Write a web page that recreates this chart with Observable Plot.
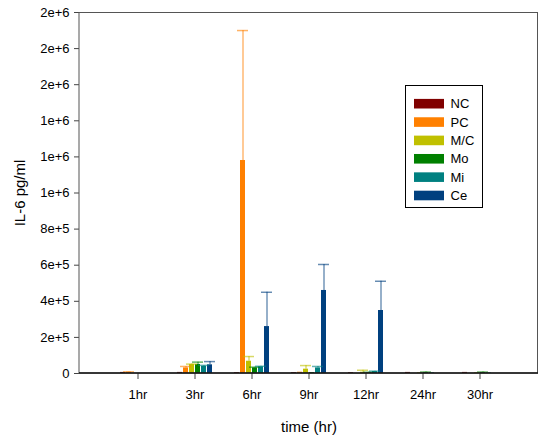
<!DOCTYPE html>
<html>
<head>
<meta charset="utf-8">
<script src="https://cdn.jsdelivr.net/npm/d3@7"></script>
<script src="https://cdn.jsdelivr.net/npm/@observablehq/plot@0.6"></script>
<style>
  html, body { margin: 0; padding: 0; background: #fff; }
  #chart { width: 539px; height: 439px; }
</style>
</head>
<body>
<div id="chart"></div>
<script>
const categories = ["1hr", "3hr", "6hr", "9hr", "12hr", "24hr", "30hr"];
const series = ["NC", "PC", "M/C", "Mo", "Mi", "Ce"];
const colors = ["#800000", "#ff8000", "#c0c000", "#008000", "#008080", "#00407f"];

// means (pg/ml), one value per category
const meanNC = [6000, 6000, 5000, 5000, 5000, 6000, 6000];
const meanPC = [7000, 31000, 1180000, 7000, 0, 0, 0];
const meanMC = [0, 50000, 68000, 24000, 7000, 4000, 4000];
const meanMo = [0, 50000, 31000, 5000, 4000, 6000, 6000];
const meanMi = [0, 40000, 37000, 31000, 11000, 4000, 3000];
const meanCe = [0, 48000, 260000, 460000, 349000, 0, 0];

// standard deviations
const sdNC = [0, 0, 0, 0, 0, 0, 0];
const sdPC = [2000, 8000, 720000, 0, 0, 0, 0];
const sdMC = [0, 2000, 26000, 20000, 11000, 0, 0];
const sdMo = [0, 13000, 4000, 0, 3000, 2000, 2000];
const sdMi = [0, 5000, 3000, 8000, 2000, 0, 0];
const sdCe = [0, 18000, 190000, 144000, 162000, 0, 0];

const yTicks = [0, 200000, 400000, 600000, 800000, 1000000, 1200000, 1400000, 1600000, 1800000, 2000000];

const means = [meanNC, meanPC, meanMC, meanMo, meanMi, meanCe];
const sds = [sdNC, sdPC, sdMC, sdMo, sdMi, sdCe];
const data = [];
series.forEach((s, j) => categories.forEach((c, i) => {
  data.push({time: c, series: s, mean: means[j][i], sd: sds[j][i]});
}));
const errData = data.filter(d => d.sd > 0);

const fmt = d => d === 0 ? "0" : d3.format(".0e")(d);
const ML = 79;

function makePlot(axisShift) {
  return Plot.plot({
    width: 539,
    height: 439,
    marginLeft: ML,
    marginRight: 1,
    marginTop: 12,
    marginBottom: 66,
    style: {fontFamily: "'Liberation Sans', Arial, sans-serif", fontSize: "13px", background: "#fff", color: "#000"},
    fx: {domain: categories, paddingInner: 0.387, paddingOuter: 0.68, label: "time (hr)"},
    x: {domain: series, paddingInner: 0.2, paddingOuter: 0, axis: null},
    y: {domain: [0, 2000000], label: "IL-6 pg/ml"},
    color: {domain: series, range: colors},
    marks: [
      Plot.axisY({ticks: yTicks, tickFormat: fmt, tickSize: 5, tickPadding: 5, label: "IL-6 pg/ml",
        labelAnchor: "center", labelOffset: 65 - axisShift, labelArrow: "none", stroke: "#444", dx: axisShift}),
      Plot.axisFx({anchor: "bottom", tickSize: 6, tickPadding: 10, label: "time (hr)",
        labelAnchor: "center", labelOffset: 58, labelArrow: "none", stroke: "#444"}),
      Plot.barY(data, {fx: "time", x: "series", y: "mean", fill: "series"}),
      Plot.ruleX(errData, {fx: "time", x: "series", y1: "mean", y2: d => d.mean + d.sd,
        stroke: "series", strokeOpacity: 0.55, strokeWidth: 1.5}),
      Plot.tickY(errData, {fx: "time", x: "series", y: d => d.mean + d.sd,
        stroke: "series", strokeOpacity: 0.6, strokeWidth: 1.5, insetLeft: -3, insetRight: -3})
    ]
  });
}

// the y axis sits at the first facet's left edge; shift it back to the plot's left edge
const probe = makePlot(0);
const shift = ML - probe.scale("fx").apply(categories[0]);
const plot = makePlot(shift);

plot.querySelectorAll('[aria-label$="axis label"]').forEach(g => g.setAttribute("font-size", 15));

const svg = d3.select(plot);
// plot frame
svg.append("rect")
  .attr("x", 79).attr("y", 12.5).attr("width", 458.5).attr("height", 360.5)
  .attr("fill", "none").attr("stroke", "#555").attr("stroke-width", 1);
svg.append("line")
  .attr("x1", 79).attr("x2", 538).attr("y1", 373).attr("y2", 373)
  .attr("stroke", "#111").attr("stroke-width", 1.5);

// legend
const color = plot.scale("color");
const lg = svg.append("g").attr("font-size", 13).attr("text-anchor", "start");
lg.append("rect").attr("x", 405.5).attr("y", 85.5).attr("width", 77).attr("height", 122)
  .attr("fill", "#fff").attr("stroke", "#000").attr("stroke-width", 1);
series.forEach((s, i) => {
  const cy = 103.7 + i * 18.36;
  lg.append("rect").attr("x", 414).attr("y", cy - 4.8).attr("width", 30).attr("height", 9.6)
    .attr("fill", color.apply(s));
  lg.append("text").attr("x", 450.5).attr("y", cy).attr("dy", "0.36em").attr("fill", "#000").text(s);
});

document.getElementById("chart").appendChild(plot);
</script>
</body>
</html>
